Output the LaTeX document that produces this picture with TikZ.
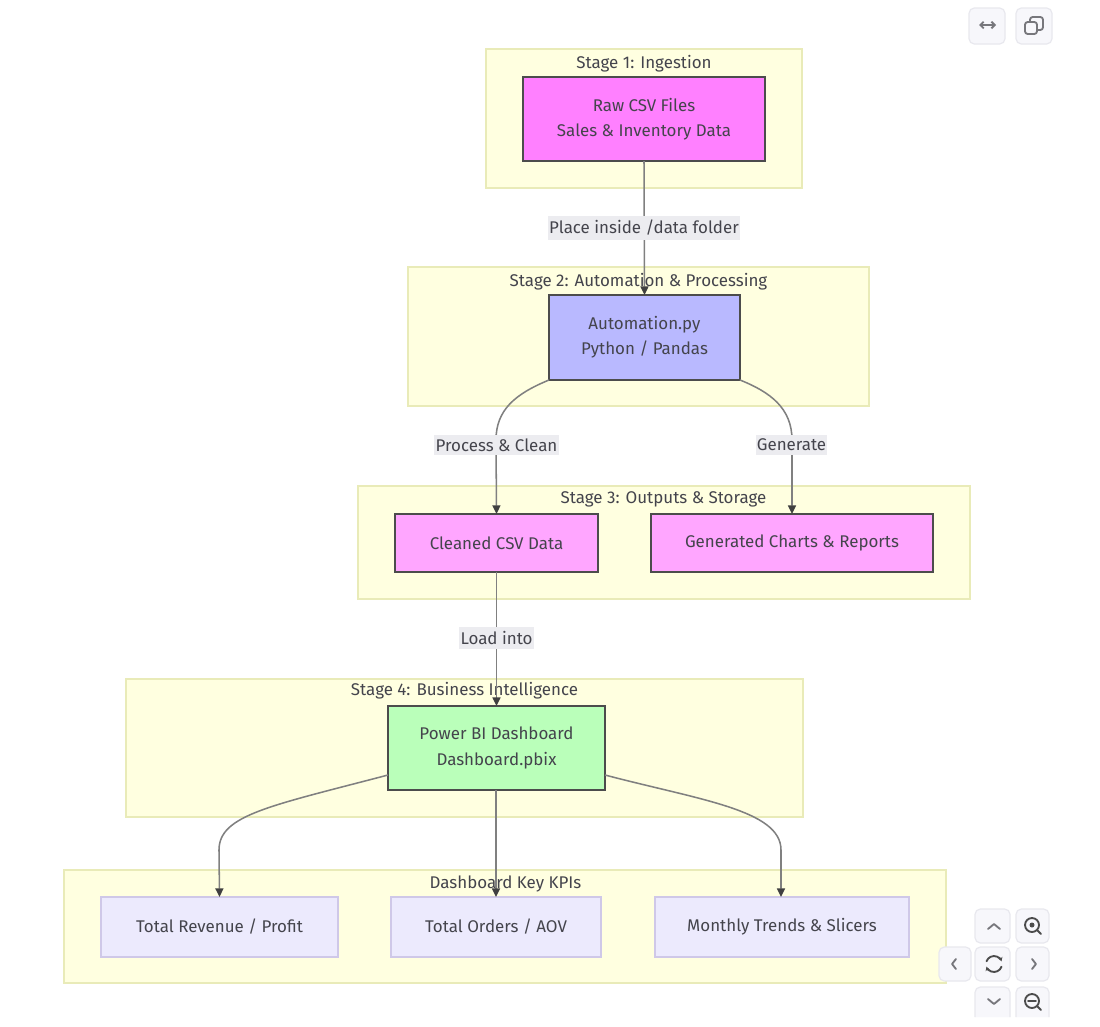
\documentclass[tikz,border=0pt]{standalone}
\usepackage{fontspec}
\setmainfont{Fira Sans}
\usetikzlibrary{arrows.meta}
\definecolor{clfill}{HTML}{FFFFE0}
\definecolor{cldraw}{HTML}{E9EBB8}
\definecolor{pinkA}{HTML}{FF80FF}
\definecolor{pinkB}{HTML}{FFA6FF}
\definecolor{blueA}{HTML}{B9B9FF}
\definecolor{greenA}{HTML}{BAFFBA}
\definecolor{lavA}{HTML}{ECEAFD}
\definecolor{lavD}{HTML}{CFC8E8}
\definecolor{inkA}{HTML}{44444C}
\definecolor{edgeC}{HTML}{808080}
\definecolor{lblC}{HTML}{ECECF0}
\definecolor{btnF}{HTML}{F7F7FB}
\definecolor{btnD}{HTML}{E8E8EE}
\definecolor{icoC}{HTML}{77777C}
\tikzset{
  x=0.75pt,y=-0.75pt,
  base/.style={inner sep=0pt,outer sep=0pt,align=center,font=\fontsize{12.7}{19}\selectfont,text=inkA},
  cluster/.style={base,fill=clfill,draw=cldraw,line width=1.1pt},
  strong/.style={base,draw=black!70,line width=1.3pt},
  rawbox/.style={strong,fill=pinkA},
  outbox/.style={strong,fill=pinkB},
  pybox/.style={strong,fill=blueA},
  bibox/.style={strong,fill=greenA},
  kpibox/.style={base,fill=lavA,draw=lavD,line width=1pt},
  title/.style={base,text=inkA},
  flow/.style={draw=edgeC,line width=1.15pt,-{Triangle[length=6.5pt,width=6pt,color=black!75]}},
  edgelabel/.style={base,fill=lblC,inner xsep=1pt,inner ysep=3pt,font=\fontsize{12.7}{15}\selectfont},
  btn/.style={fill=btnF,draw=btnD,line width=0.9pt,rounded corners=4pt},
  ico/.style={draw=icoC,line width=1.4pt,line cap=round,line join=round}
}
\newcommand{\pxbox}[7]{%
  \pgfmathsetmacro{\pxW}{(#5-#3)*0.75}\pgfmathsetmacro{\pxH}{(#6-#4)*0.75}%
  \node[#2,minimum width=\pxW pt,minimum height=\pxH pt] (#1) at ({(#3+#5)/2},{(#4+#6)/2}) {#7};}
\begin{document}
\begin{tikzpicture}
\useasboundingbox (0,0) rectangle (1100,1026);
\fill[white] (0,0) rectangle (1100,1026);
% clusters
\pxbox{c1}{cluster}{486}{49}{802}{188}{}
\pxbox{c2}{cluster}{408}{267}{869}{406}{}
\pxbox{c3}{cluster}{358}{486}{970}{599}{}
\pxbox{c4}{cluster}{126}{679}{803}{817}{}
\pxbox{c5}{cluster}{64}{870}{946}{983}{}
% titles
\node[title] (t1) at (644,63.5) {Stage 1: Ingestion};
\node[title] (t2) at (638.5,281.5) {Stage 2: Automation \& Processing};
\node[title] (t3) at (663.5,499.5) {Stage 3: Outputs \& Storage};
\node[title] (t4) at (464.5,691) {Stage 4: Business Intelligence};
\node[title] (t5) at (505.5,884) {Dashboard Key KPIs};
% nodes
\pxbox{raw}{rawbox}{523}{77}{765}{161}{Raw CSV Files\\Sales \& Inventory Data}
\pxbox{auto}{pybox}{549}{295}{740}{380}{Automation.py\\Python / Pandas}
\pxbox{clean}{outbox}{395}{514}{598}{572}{Cleaned CSV Data}
\pxbox{charts}{outbox}{651}{514}{933}{572}{Generated Charts \& Reports}
\pxbox{pbi}{bibox}{388}{706}{605}{790}{Power BI Dashboard\\Dashboard.pbix}
\pxbox{rev}{kpibox}{101}{897}{338}{957}{Total Revenue / Profit}
\pxbox{orders}{kpibox}{391}{897}{601}{957}{Total Orders / AOV}
\pxbox{trends}{kpibox}{655}{897}{909}{957}{Monthly Trends \& Slicers}
% connectors
\draw[flow] (raw.south) -- (auto.north);
\draw[flow] (auto.south west) .. controls (515,394) and (496,410) .. (496,440) -- (clean.north);
\draw[flow] (auto.south east) .. controls (770,392) and (792,408) .. (792,440) -- (792,514);
\draw[flow] (clean.south) -- (pbi.north-|clean.south);
\draw[flow] (pbi.west|-0,775) .. controls (270,806) and (219,815) .. (219,850) -- (rev.north);
\draw[flow] (pbi.south-|orders.north) -- (orders.north);
\draw[flow] (pbi.east|-0,775) .. controls (700,800) and (781,810) .. (781,850) -- (781,897);
% edge labels
\node[edgelabel] (l1) at (644,228) {Place inside /data folder};
\node[edgelabel] (l2) at (496.5,445) {Process \& Clean};
\node[edgelabel] (l3) at (791.5,445) {Generate};
\node[edgelabel] (l4) at (496.5,638) {Load into};
% viewer buttons
\draw[btn] (969,8) rectangle (1005,44);
\draw[btn] (1016,8) rectangle (1052,44);
\draw[ico,{Straight Barb[length=2.5pt,width=5pt]}-{Straight Barb[length=2.5pt,width=5pt]}] (979,25) -- (996,25);
\draw[ico,rounded corners=2pt] (1030,17) rectangle (1043,30);
\draw[ico,rounded corners=2pt,fill=btnF] (1025,22) rectangle (1037,34);
\draw[btn] (975,909) rectangle (1010,943);
\draw[btn] (1016,909) rectangle (1049,943);
\draw[btn] (939,947) rectangle (971,981);
\draw[btn] (975,947) rectangle (1010,981);
\draw[btn] (1016,947) rectangle (1049,981);
\draw[btn] (975,1017) -- (975,987) -- (1010,987) -- (1010,1017);
\draw[btn] (1016,1017) -- (1016,987) -- (1049,987) -- (1049,1017);
\draw[ico] (988,929) -- (994,924) -- (1000,929);
\draw[ico] (956,959) -- (952,964) -- (956,969);
\draw[ico] (1032,959) -- (1036,964) -- (1032,969);
\draw[ico] (988,999) -- (994,1004) -- (1000,999);
\draw[ico,black!70,-{Stealth[length=3pt,width=3.5pt]}] (986.5,961.3) arc[start angle=200,end angle=340,radius=8];
\draw[ico,black!70,-{Stealth[length=3pt,width=3.5pt]}] (1001.5,966.7) arc[start angle=20,end angle=160,radius=8];
\draw[ico,black!70] (1032,925) circle[radius=7];
\draw[ico,black!70] (1037,930) -- (1041,934);
\fill[black!70] (1032,925) circle[radius=2.5];
\draw[ico,black!70] (1032,1001) circle[radius=7];
\draw[ico,black!70] (1037,1006) -- (1041,1010);
\draw[ico,black!70] (1028,1001) -- (1036,1001);
\end{tikzpicture}
\end{document}
